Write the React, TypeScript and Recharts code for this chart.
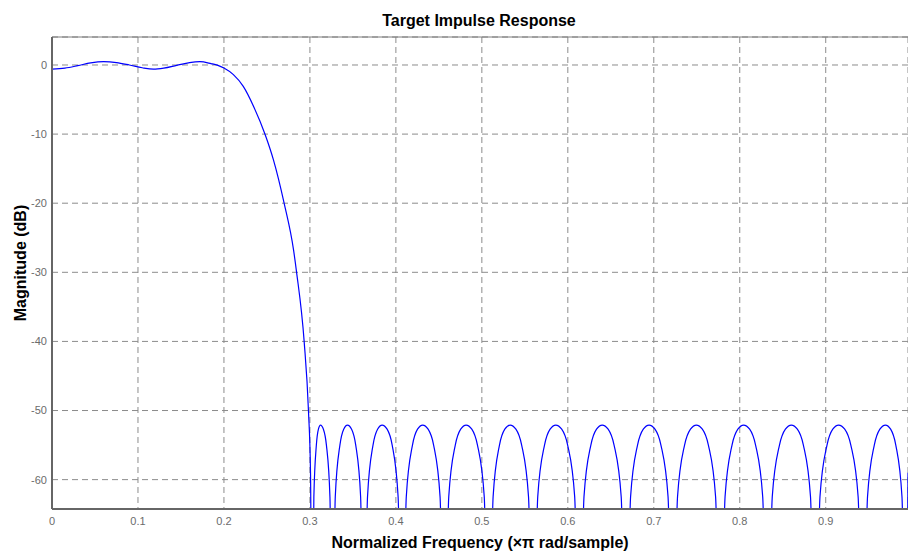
import { LineChart, Line, XAxis, YAxis, CartesianGrid, ReferenceLine } from "recharts"

// passband ripple + transition band
const passFreq = [
    0, 0.015, 0.03, 0.045, 0.06, 0.075, 0.09, 0.105, 0.118, 0.13, 0.145, 0.16, 0.172, 0.185, 0.193,
    0.2, 0.211, 0.2225, 0.2345, 0.248, 0.2575, 0.27, 0.281, 0.2845, 0.2933, 0.2983, 0.3007,
]
const passDb = [
    -0.6, -0.45, -0.1, 0.3, 0.48, 0.35, 0.0, -0.4, -0.6, -0.45, -0.05, 0.35, 0.48, 0.2, -0.05,
    -0.45, -1.4, -3.1, -6.0, -10.1, -13.7, -20, -26.8, -30, -40, -50, -59,
]

// stopband lobes (null, flanks, peak), nulls go far below the visible range
const stopFreq = [
    0.3026, 0.3046, 0.3075, 0.3099, 0.3123, 0.3157, 0.3192, 0.3233,
    0.326, 0.3295, 0.3349, 0.3393, 0.3437, 0.3485, 0.3533, 0.359,
    0.3628, 0.367, 0.3734, 0.3787, 0.384, 0.3898, 0.3957, 0.4026,
    0.4073, 0.4121, 0.4193, 0.4252, 0.4312, 0.4375, 0.4439, 0.4514,
    0.4565, 0.4615, 0.4691, 0.4754, 0.4817, 0.4883, 0.4949, 0.5028,
    0.5081, 0.5131, 0.5205, 0.5267, 0.5329, 0.5396, 0.5463, 0.5543,
    0.5597, 0.565, 0.5729, 0.5794, 0.586, 0.5929, 0.5998, 0.608,
    0.6135, 0.6188, 0.6268, 0.6334, 0.64, 0.6469, 0.6538, 0.6621,
    0.6676, 0.673, 0.6811, 0.6878, 0.6945, 0.7014, 0.7083, 0.7166,
    0.7221, 0.7276, 0.7358, 0.7427, 0.7495, 0.7565, 0.7635, 0.7719,
    0.7775, 0.7829, 0.791, 0.7978, 0.8045, 0.8115, 0.8184, 0.8267,
    0.8323, 0.8378, 0.8462, 0.8531, 0.86, 0.867, 0.874, 0.8823,
    0.8879, 0.8933, 0.9015, 0.9082, 0.915, 0.9221, 0.9292, 0.9377,
    0.9434, 0.9486, 0.9565, 0.963, 0.9695, 0.9755, 0.9815, 0.9887,
    0.9932, 0.9957,
]
const stopDb = [
    -90, -62.5, -55, -52.7, -52.1, -52.7, -55, -62.5,
    -90, -62.5, -55, -52.7, -52.1, -52.7, -55, -62.5,
    -90, -62.5, -55, -52.7, -52.1, -52.7, -55, -62.5,
    -90, -62.5, -55, -52.7, -52.1, -52.7, -55, -62.5,
    -90, -62.5, -55, -52.7, -52.1, -52.7, -55, -62.5,
    -90, -62.5, -55, -52.7, -52.1, -52.7, -55, -62.5,
    -90, -62.5, -55, -52.7, -52.1, -52.7, -55, -62.5,
    -90, -62.5, -55, -52.7, -52.1, -52.7, -55, -62.5,
    -90, -62.5, -55, -52.7, -52.1, -52.7, -55, -62.5,
    -90, -62.5, -55, -52.7, -52.1, -52.7, -55, -62.5,
    -90, -62.5, -55, -52.7, -52.1, -52.7, -55, -62.5,
    -90, -62.5, -55, -52.7, -52.1, -52.7, -55, -62.5,
    -90, -62.5, -55, -52.7, -52.1, -52.7, -55, -62.5,
    -90, -62.5, -55, -52.7, -52.1, -52.7, -55, -62.5,
    -90, -59,
]

const xTicks = [0, 0.1, 0.2, 0.3, 0.4, 0.5, 0.6, 0.7, 0.8, 0.9]
const yTicks = [0, -10, -20, -30, -40, -50, -60]

const data = [
    ...passFreq.map((f, i) => ({ f, db: passDb[i] })),
    ...stopFreq.map((f, i) => ({ f, db: stopDb[i] })),
]

const tickFont = { fontSize: 11, fill: "#6b6b6b", fontFamily: "'Liberation Sans Narrow', 'Liberation Sans', Arial, sans-serif" }
const labelFont = { fontFamily: "'Liberation Sans', Arial, sans-serif", fontWeight: 700, fontSize: 16, color: "#000", lineHeight: "16px", whiteSpace: "nowrap" as const }

export default function App() {
    return (
        <div style={{ position: "absolute", left: 0, top: 0, width: 908, height: 555, background: "#fff", overflow: "hidden" }}>
            <div style={{ ...labelFont, position: "absolute", left: 479, top: 12.5, transform: "translateX(-50%)" }}>
                Target Impulse Response
            </div>
            <LineChart width={908} height={555} data={data} margin={{ top: 37, right: 0, bottom: 0, left: 0 }}>
                <CartesianGrid stroke="#8c8c8c" strokeDasharray="6 4" />
                <XAxis
                    dataKey="f"
                    type="number"
                    domain={[0, 0.9957]}
                    ticks={xTicks}
                    allowDataOverflow
                    height={46}
                    tickLine={false}
                    tick={tickFont}
                    axisLine={{ stroke: "#666", strokeWidth: 2 }}
                />
                <YAxis
                    type="number"
                    domain={[-64.25, 4.05]}
                    ticks={yTicks}
                    allowDataOverflow
                    width={52}
                    tickLine={false}
                    tickSize={3}
                    tick={tickFont}
                    axisLine={{ stroke: "#666", strokeWidth: 2 }}
                />
                <ReferenceLine y={4.05} stroke="#7a7a7a" strokeWidth={1} />
                <Line
                    dataKey="db"
                    type="monotone"
                    stroke="#0000ff"
                    strokeWidth={1.2}
                    dot={false}
                    isAnimationActive={false}
                />
            </LineChart>
            <div style={{ ...labelFont, position: "absolute", left: 480, top: 534.5, transform: "translateX(-50%)" }}>
                Normalized Frequency (×π rad/sample)
            </div>
            <div style={{ ...labelFont, position: "absolute", left: 20.5, top: 262.5, transform: "translate(-50%, -50%) rotate(-90deg)" }}>
                Magnitude (dB)
            </div>
        </div>
    )
}
